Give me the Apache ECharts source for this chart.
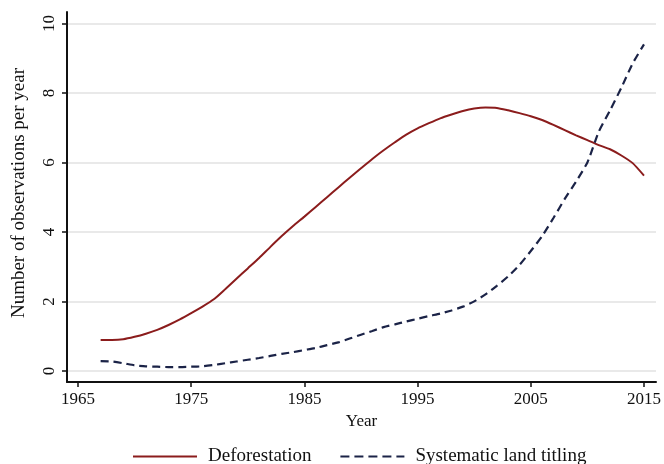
<!DOCTYPE html>
<html>
<head>
<meta charset="utf-8">
<script src="https://cdn.jsdelivr.net/npm/echarts@6/dist/echarts.min.js"></script>
<style>
html,body{margin:0;padding:0;background:#fff;}
#chart{width:664px;height:464px;}
</style>
</head>
<body>
<div id="chart"></div>
<script>
const years = [1967,1968,1969,1970,1971,1972,1973,1974,1975,1976,1977,1978,1979,1980,1981,1982,1983,1984,1985,1986,1987,1988,1989,1990,1991,1992,1993,1994,1995,1996,1997,1998,1999,2000,2001,2002,2003,2004,2005,2006,2007,2008,2009,2010,2011,2012,2013,2014,2015];
const deforestation = [0.89,0.89,0.91,0.98,1.07,1.18,1.32,1.48,1.66,1.85,2.06,2.35,2.65,2.95,3.25,3.57,3.88,4.17,4.44,4.72,5.00,5.28,5.56,5.83,6.10,6.35,6.58,6.80,6.98,7.13,7.27,7.38,7.48,7.55,7.58,7.57,7.50,7.42,7.33,7.22,7.08,6.93,6.78,6.64,6.50,6.38,6.20,5.98,5.62];
const titling = [0.28,0.27,0.22,0.16,0.13,0.12,0.11,0.11,0.12,0.13,0.17,0.22,0.27,0.32,0.37,0.43,0.49,0.54,0.60,0.66,0.74,0.82,0.93,1.04,1.15,1.26,1.34,1.42,1.50,1.58,1.65,1.74,1.85,2.00,2.20,2.45,2.72,3.05,3.45,3.88,4.40,4.95,5.45,6.00,6.88,7.50,8.15,8.85,9.40];
const xTicks = [1965,1975,1985,1995,2005,2015];
const yTicks = [0,2,4,6,8,10];
const seriesNames = ['Deforestation','Systematic land titling'];
const xTitle = 'Year';
const yTitle = 'Number of observations per year';

const font = 'Liberation Serif';
const solidIcon = 'path://M0,0H64V2H0Z';
const dashedIcon = 'path://M0,0H9V2H0Z M14,0H23V2H14Z M28,0H37V2H28Z M42,0H51V2H42Z M56,0H64V2H56Z';
const chart = echarts.init(document.getElementById('chart'), null, {renderer:'canvas'});
chart.setOption({
  animation:false,
  backgroundColor:'#fff',
  grid:{left:67, right:6, top:12, bottom:82, containLabel:false},
  xAxis:{
    type:'value', min:1964.03, max:2016.06,
    axisLine:{show:true, onZero:false, lineStyle:{color:'#111', width:2}},
    axisTick:{show:true, customValues:xTicks, length:5, lineStyle:{color:'#111', width:1.5}},
    axisLabel:{customValues:xTicks, margin:9, fontFamily:font, fontSize:17, color:'#111', formatter:v=>String(v)},
    splitLine:{show:false},
    name:xTitle, nameLocation:'middle', nameGap:30,
    nameTextStyle:{fontFamily:font, fontSize:17, color:'#111'}
  },
  yAxis:{
    type:'value', min:-0.32, max:10.33,
    axisLine:{show:true, onZero:false, lineStyle:{color:'#111', width:2}},
    axisTick:{show:true, customValues:yTicks, length:5, lineStyle:{color:'#111', width:1.5}},
    axisLabel:{customValues:yTicks, rotate:90, margin:9, fontFamily:font, fontSize:17, color:'#111', formatter:v=>String(v)},
    splitLine:{show:true, lineStyle:{color:'#e2e2e2', width:1.5}}
  },
  graphic:[{
    type:'text', left:10, top:68, rotation:Math.PI/2, originX:0, originY:0,
    style:{text:yTitle, fontFamily:font, fontSize:19, fill:'#111'}
  }],
  legend:{
    left:133, top:447, padding:0, itemWidth:64, itemHeight:2.2, itemGap:29,
    textStyle:{fontFamily:font, fontSize:19, color:'#111', padding:[0,0,0,6]},
    data:[{name:seriesNames[0], icon:solidIcon},{name:seriesNames[1], icon:dashedIcon}]
  },
  series:[
    {name:seriesNames[0], type:'line', data:years.map((y,i)=>[y,deforestation[i]]),
     showSymbol:false, symbol:'none', smooth:0.2,
     lineStyle:{color:'#8b1c1c', width:2}, itemStyle:{color:'#8b1c1c'}},
    {name:seriesNames[1], type:'line', data:years.map((y,i)=>[y,titling[i]]),
     showSymbol:false, symbol:'none', smooth:0.2,
     lineStyle:{color:'#1b2347', width:2.2, type:[8,5]}, itemStyle:{color:'#1b2347'}}
  ]
});
</script>
</body>
</html>
